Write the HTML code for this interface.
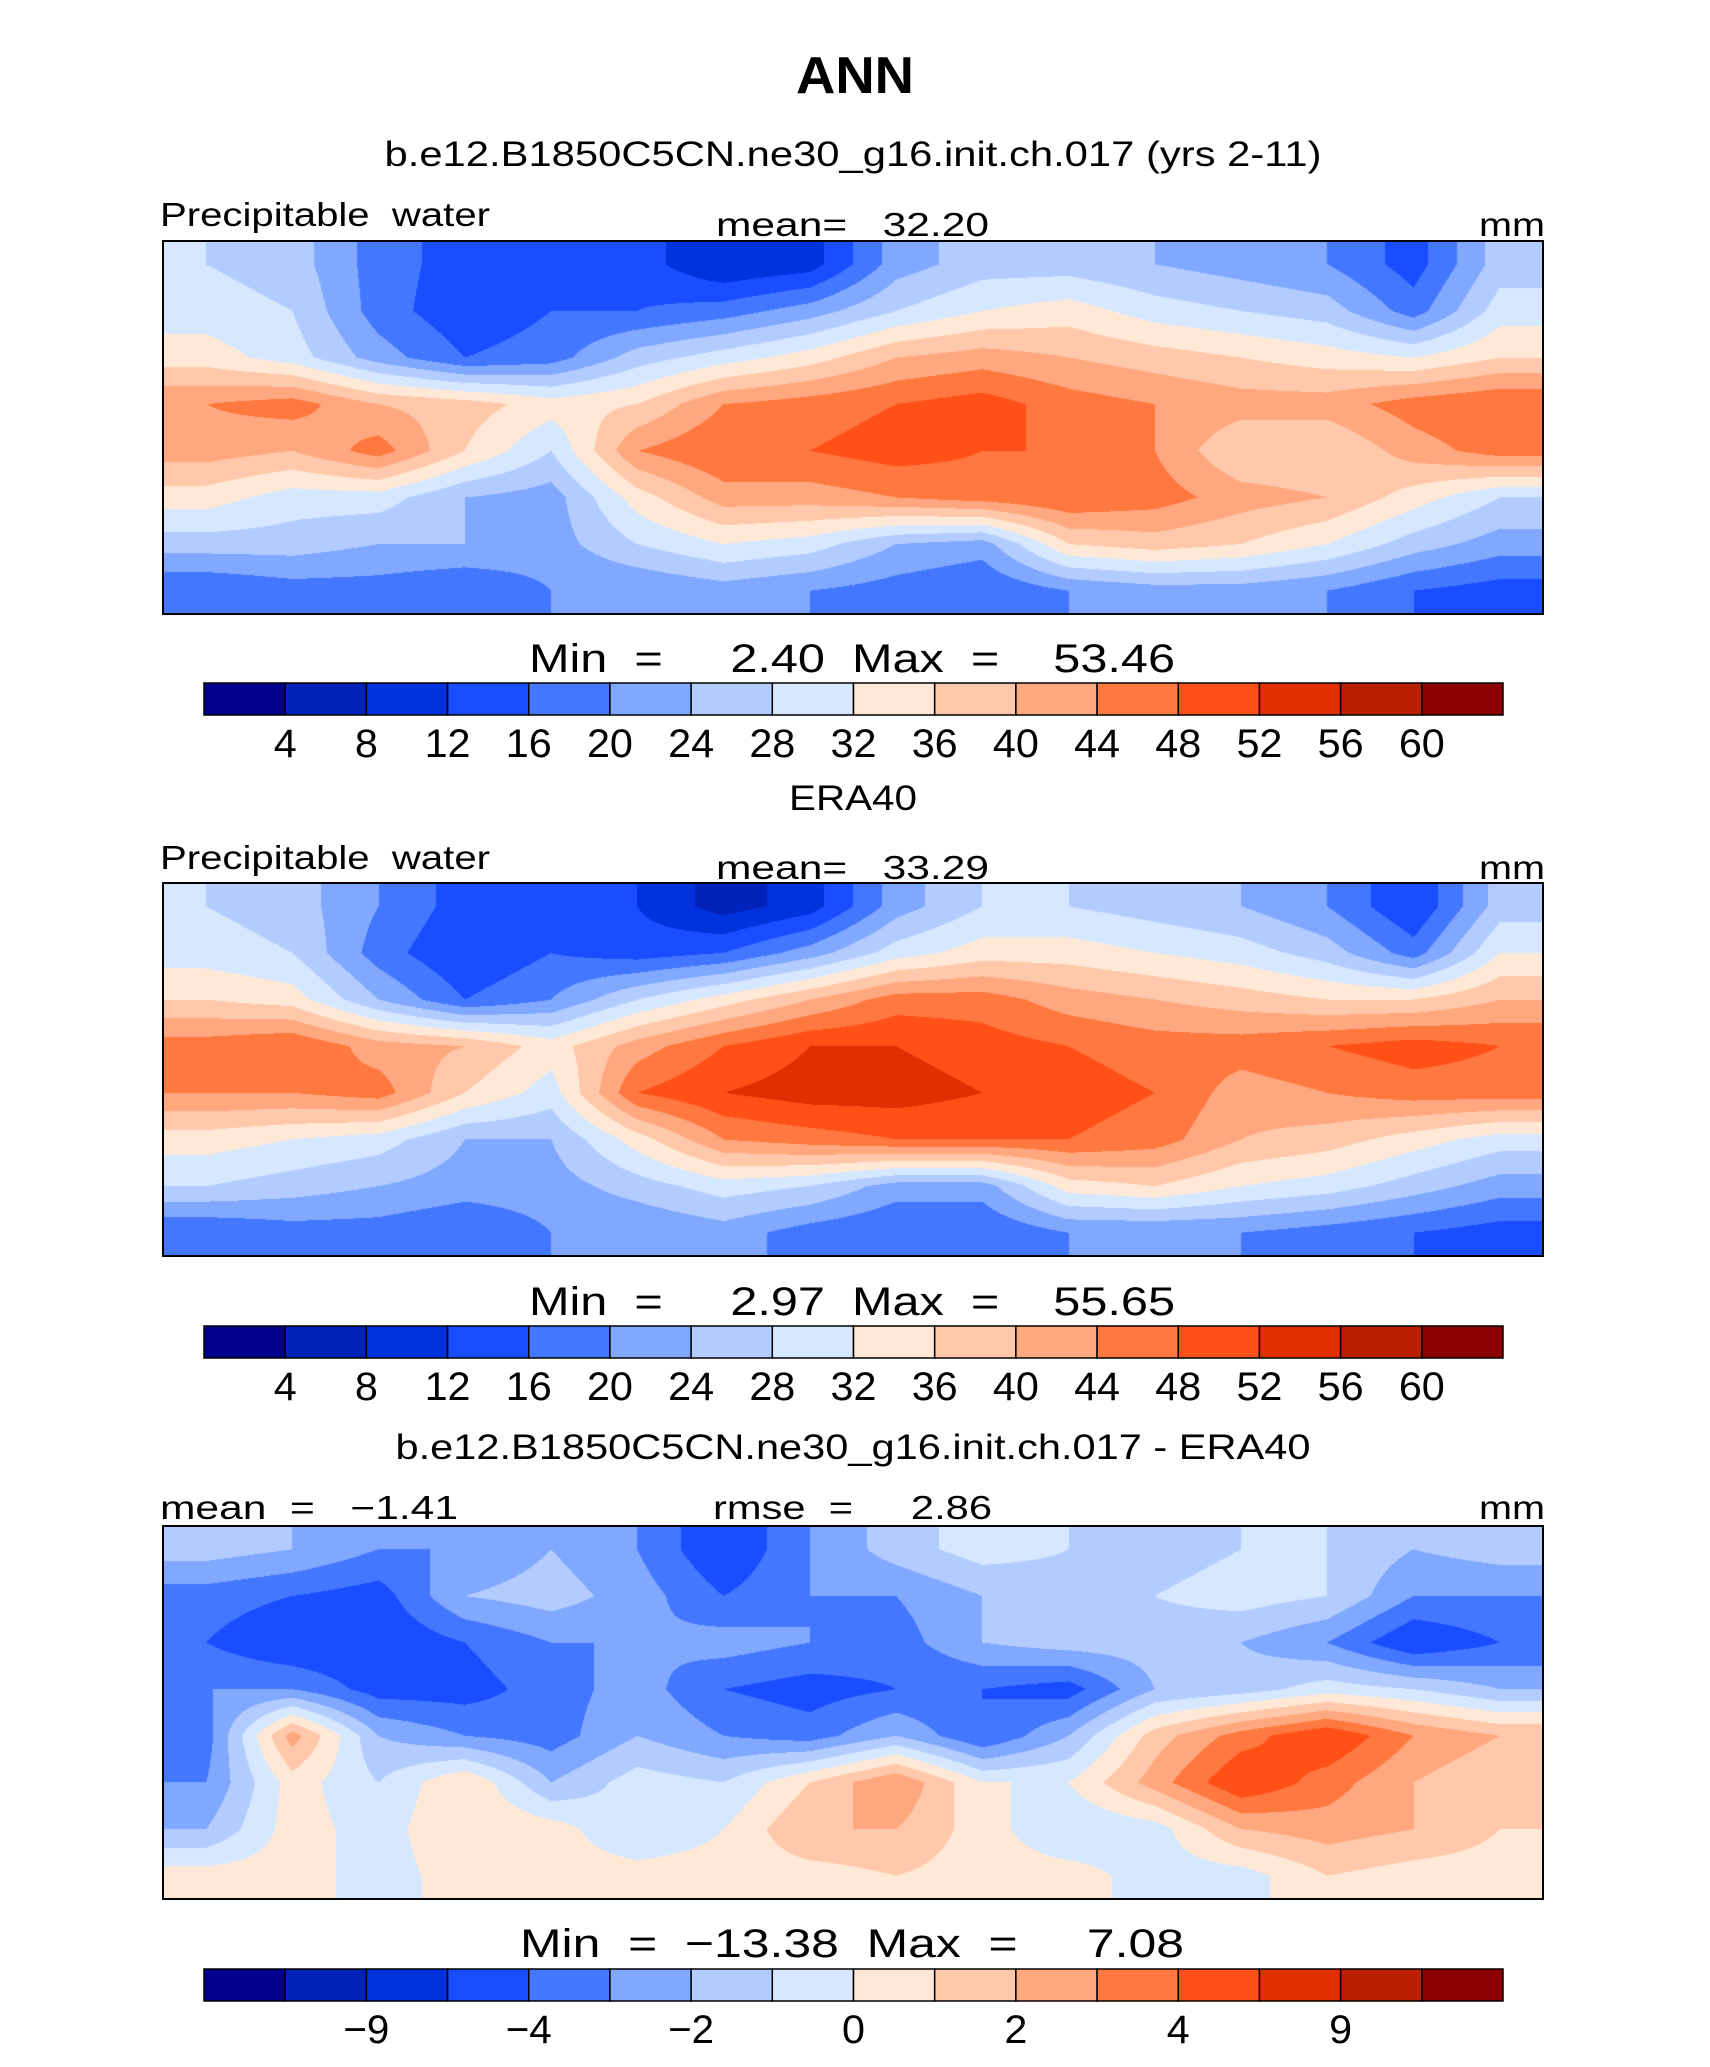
<!DOCTYPE html>
<html><head><meta charset="utf-8"><style>
html,body{margin:0;padding:0;background:#fff;}
#wrap{position:relative;width:1710px;height:2067px;overflow:hidden;}
canvas{position:absolute;}
svg{position:absolute;left:0;top:0;}
text{font-family:"Liberation Sans",sans-serif;white-space:pre;}
</style></head><body>
<div id="wrap">
<canvas id="m1" width="1380" height="373" style="left:163px;top:241px"></canvas>
<canvas id="m2" width="1380" height="373" style="left:163px;top:883px"></canvas>
<canvas id="m3" width="1380" height="373" style="left:163px;top:1526px"></canvas>
<svg id="svg" width="1710" height="2067" xmlns="http://www.w3.org/2000/svg">
<text x="855" y="93" text-anchor="middle" font-size="52" font-weight="bold" textLength="118" lengthAdjust="spacingAndGlyphs">ANN</text>
<text x="853" y="166" text-anchor="middle" font-size="35" textLength="937" lengthAdjust="spacingAndGlyphs">b.e12.B1850C5CN.ne30_g16.init.ch.017 (yrs 2-11)</text>
<text x="160" y="226" font-size="33" textLength="330" lengthAdjust="spacingAndGlyphs">Precipitable  water</text>
<text x="716" y="236" font-size="33" textLength="273" lengthAdjust="spacingAndGlyphs">mean=   32.20</text>
<text x="1545" y="236" text-anchor="end" font-size="33" textLength="66" lengthAdjust="spacingAndGlyphs">mm</text>
<text x="529" y="672" font-size="40" textLength="646" lengthAdjust="spacingAndGlyphs">Min  =     2.40  Max  =    53.46</text>
<text x="853" y="810" text-anchor="middle" font-size="35" textLength="128" lengthAdjust="spacingAndGlyphs">ERA40</text>
<text x="160" y="869" font-size="33" textLength="330" lengthAdjust="spacingAndGlyphs">Precipitable  water</text>
<text x="716" y="879" font-size="33" textLength="273" lengthAdjust="spacingAndGlyphs">mean=   33.29</text>
<text x="1545" y="879" text-anchor="end" font-size="33" textLength="66" lengthAdjust="spacingAndGlyphs">mm</text>
<text x="529" y="1315" font-size="40" textLength="646" lengthAdjust="spacingAndGlyphs">Min  =     2.97  Max  =    55.65</text>
<text x="853" y="1459" text-anchor="middle" font-size="35" textLength="915" lengthAdjust="spacingAndGlyphs">b.e12.B1850C5CN.ne30_g16.init.ch.017 - ERA40</text>
<text x="160" y="1519" font-size="33" textLength="298" lengthAdjust="spacingAndGlyphs">mean  =   −1.41</text>
<text x="713" y="1519" font-size="33" textLength="279" lengthAdjust="spacingAndGlyphs">rmse  =     2.86</text>
<text x="1545" y="1519" text-anchor="end" font-size="33" textLength="66" lengthAdjust="spacingAndGlyphs">mm</text>
<text x="520" y="1957" font-size="40" textLength="664" lengthAdjust="spacingAndGlyphs">Min  =  −13.38  Max  =     7.08</text>
</svg>
</div>
<script>
const colors = ["#00008C","#0022B8","#0033DD","#1A4DFF","#4477FF","#80A8FF","#B3CCFF","#D6E8FF","#FFE8D6","#FFC8AA","#FFA880","#FF7840","#FF5018","#E03000","#B82000","#8B0000"];
const levelsPW = [4,8,12,16,20,24,28,32,36,40,44,48,52,56,60];
const levelsDiff = [-12,-9,-6,-4,-3,-2,-1,0,1,2,3,4,6,9,12];
const ticksPW = ["4","8","12","16","20","24","28","32","36","40","44","48","52","56","60"];
const ticksDiff = ["","\u22129","","\u22124","","\u22122","","0","","2","","4","","9",""];
const modelGrid = [
[28,26,18,14,16,14,8,10,22,26,26,24,22,20,14,26],
[30,28,18,13,16,16,18,22,28,32,34,30,28,26,18,30],
[34,30,22,16,18,26,30,34,40,42,40,38,36,34,32,36],
[44,46,40,38,34,36,44,46,48,50,46,44,42,42,46,48],
[42,40,46,36,28,44,48,48,50,48,48,44,36,36,42,46],
[34,30,30,24,22,34,42,42,44,46,48,46,42,40,34,28],
[26,26,24,24,22,28,32,30,24,22,36,38,36,32,26,22],
[16,18,18,16,20,20,22,20,18,16,20,22,22,20,16,14]];
const eraGrid = [
[28,26,20,14,14,12,6,10,22,28,28,26,24,20,12,26],
[30,28,18,12,16,14,16,22,30,34,34,32,30,26,18,32],
[36,34,24,16,20,28,34,40,46,46,42,40,38,36,36,40],
[46,48,42,40,34,42,48,52,52,50,48,46,46,48,50,48],
[44,44,46,36,30,48,52,54,54,52,50,48,42,44,46,46],
[34,32,30,24,24,34,44,46,48,48,48,46,40,38,34,30],
[28,26,24,22,22,26,30,28,22,22,34,36,32,30,26,22],
[16,18,18,16,20,20,22,18,16,16,20,20,20,18,16,14]];
const diffGrid = [
[-1.5,-2,-3,-3,-2,-3,-5,-3,-1.5,-0.5,-1,-1.5,-1,-1,-2,-1.5],
[-3.5,-4,-4.5,-2,-1.5,-2.5,-4,-3,-3,-2,-1.5,-1,-0.5,-1,-3,-3],
[-4,-5,-5,-4,-3,-3,-2.5,-3,-3.5,-2,-1.5,-1.5,-2,-3,-5,-4],
[-3,-3,-4.5,-4.5,-3.5,-2.5,-4,-4.5,-4,-4,-4.5,-2,-1.5,-0.5,-1,-2],
[-3.5,2.5,-2,-3,-3.5,-2,-3,-3.5,-2,-4,-2,1.5,3.5,5,3,2],
[-3,0.5,-1,1,-2,-0.5,-1,1,3,0,0,2.5,5,3.5,2,1],
[-2,0.5,-0.5,1,0.5,-1,0,2,2,0.5,-1,-0.5,2,2.5,2,1],
[0.5,0.5,-0.5,0.5,0.5,0.5,0.5,0.5,1,0.5,0.5,-0.5,-0.5,1,0.5,0.5]];

function hexRgb(h){return [parseInt(h.substr(1,2),16),parseInt(h.substr(3,2),16),parseInt(h.substr(5,2),16)];}
const rgb = colors.map(hexRgb);
function drawMap(id, grid, levels){
  const c=document.getElementById(id), ctx=c.getContext('2d');
  const W=c.width,H=c.height, R=grid.length, C=grid[0].length;
  const img=ctx.createImageData(W,H);
  for(let y=0;y<H;y++){
    let gy=(y+0.5)/H*R-0.5; gy=Math.max(0,Math.min(R-1,gy));
    const y0=Math.floor(gy), y1=Math.min(R-1,y0+1), fy=gy-y0;
    for(let x=0;x<W;x++){
      let gx=(x+0.5)/W*C-0.5; gx=Math.max(0,Math.min(C-1,gx));
      const x0=Math.floor(gx), x1=Math.min(C-1,x0+1), fx=gx-x0;
      const v=(grid[y0][x0]*(1-fx)+grid[y0][x1]*fx)*(1-fy)+(grid[y1][x0]*(1-fx)+grid[y1][x1]*fx)*fy;
      let k=0; while(k<levels.length && v>=levels[k]) k++;
      const col=rgb[k], i=(y*W+x)*4;
      img.data[i]=col[0];img.data[i+1]=col[1];img.data[i+2]=col[2];img.data[i+3]=255;
    }
  }
  ctx.putImageData(img,0,0);
}
drawMap('m1',modelGrid,levelsPW);
drawMap('m2',eraGrid,levelsPW);
drawMap('m3',diffGrid,levelsDiff);

const svg=document.getElementById('svg'), NS='http://www.w3.org/2000/svg';
const mapTops=[241,883,1526];
mapTops.forEach(function(t,pi){
  const r=document.createElementNS(NS,'rect');
  r.setAttribute('x',163);r.setAttribute('y',t);r.setAttribute('width',1380);r.setAttribute('height',373);
  r.setAttribute('fill','none');r.setAttribute('stroke','#000');r.setAttribute('stroke-width','2');
  
  
  svg.appendChild(r);
});
const barX0=204, barX1=1503, barW=(barX1-barX0)/colors.length;
const barTops=[683,1326,1969];
function bx(i){return barX0+i*barW;}
barTops.forEach(function(t,pi){
  const ticks = pi<2 ? ticksPW : ticksDiff;
  colors.forEach(function(col,i){
    const r=document.createElementNS(NS,'rect');
    r.setAttribute('x',bx(i));r.setAttribute('y',t);r.setAttribute('width',barW);r.setAttribute('height',32);
    r.setAttribute('fill',col);r.setAttribute('stroke','#000');r.setAttribute('stroke-width','1.5');
    
    
    svg.appendChild(r);
  });
  ticks.forEach(function(lb,i){
    if(!lb) return;
    const tx=document.createElementNS(NS,'text');
    tx.setAttribute('x',bx(i+1));tx.setAttribute('y',t+74);
    tx.setAttribute('text-anchor','middle');tx.setAttribute('font-size','40');
    tx.setAttribute('textLength',lb.length*23);tx.setAttribute('lengthAdjust','spacingAndGlyphs');
    tx.textContent=lb;
    
    
    svg.appendChild(tx);
  });
});
</script>
</body></html>
